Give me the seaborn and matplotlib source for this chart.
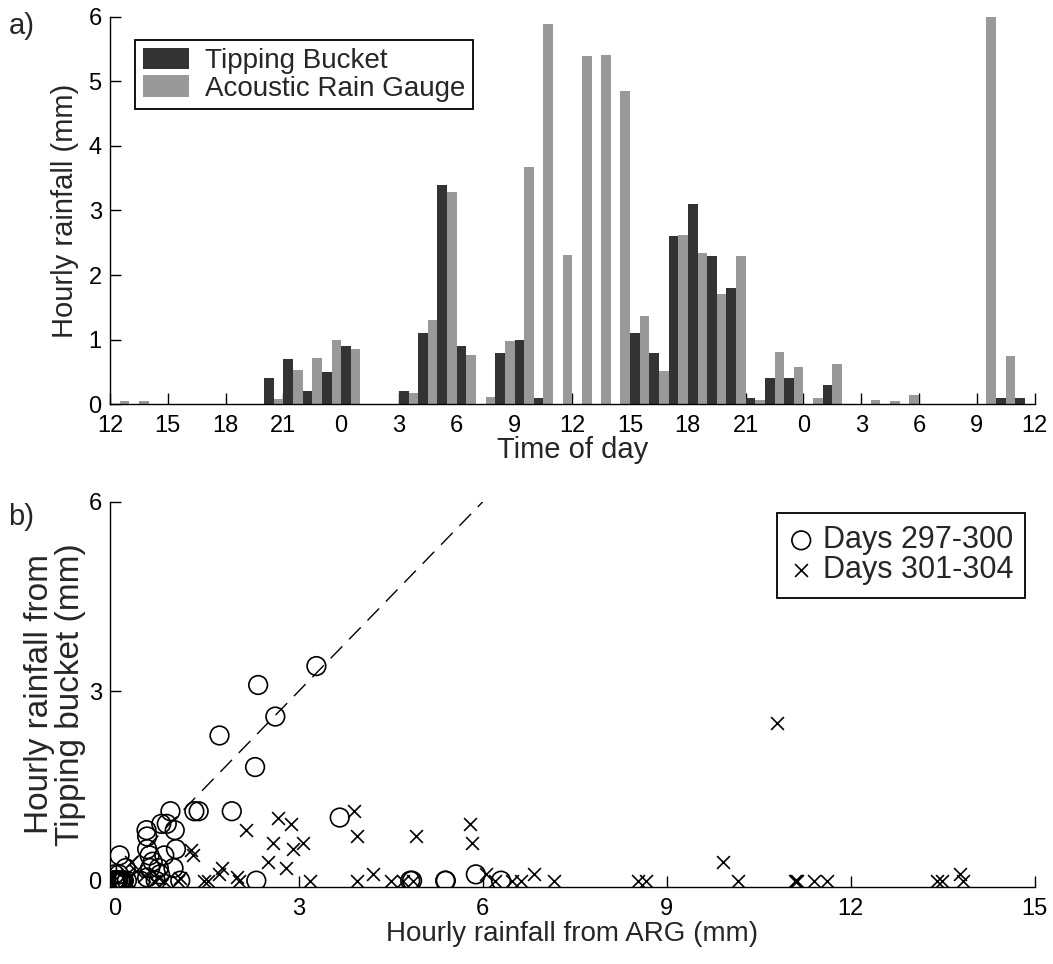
"""
Hourly rainfall: tipping bucket vs acoustic rain gauge (ARG).

a) hourly totals over two days, b) TB against ARG for two periods.
"""

import matplotlib

matplotlib.use("Agg")

import matplotlib.pyplot as plt
import numpy as np
import pandas as pd
import seaborn as sns

OUT_PATH = "out.png"

DARK = "#333333"
LIGHT = "#999999"

# hourly totals (mm), hour 0 = 12:00 on the first day, 48 hours in all
tipping_bucket = [
    0, 0, 0, 0, 0, 0, 0, 0, 0.4, 0.7, 0.2, 0.5,
    0.9, 0, 0, 0.2, 1.1, 3.4, 0.9, 0, 0.8, 1.0, 0.1, 0,
    0, 0, 0, 1.1, 0.8, 2.6, 3.1, 2.3, 1.8, 0.1, 0.4, 0.4,
    0, 0.3, 0, 0, 0, 0, 0, 0, 0, 0, 0.1, 0.1,
]
acoustic = [
    0.05, 0.05, 0, 0, 0, 0, 0, 0, 0.08, 0.53, 0.72, 1.0,
    0.85, 0, 0, 0.18, 1.3, 3.29, 0.76, 0.12, 0.98, 3.67, 5.89, 2.31,
    5.39, 5.4, 4.85, 1.37, 0.52, 2.62, 2.34, 1.71, 2.29, 0.07, 0.81, 0.57,
    0.09, 0.62, 0, 0.06, 0.05, 0.14, 0, 0, 0, 6.3, 0.74, 0,
]
hour_labels = ["12", "15", "18", "21", "0", "3", "6", "9",
               "12", "15", "18", "21", "0", "3", "6", "9", "12"]

# other hours of days 297-300 (not in panel a)
extra_arg = [0.91, 1.91, 4.82, 1.07, 0.53, 0.53, 0.42, 0.67, 0.96, 0.58,
             0.0, 0.15, 0.2, 0.1, 0.03]
extra_tb = [1.1, 1.1, 0, 0, 0.5, 0.05, 0, 0, 0.2, 0.2,
            0, 0, 0, 0, 0]

# days 301-304
late_arg = [
    0.2, 0.26, 0.35, 0.48, 0.64, 0.72, 0.8, 1.04, 1.07, 1.25,
    1.28, 1.45, 1.53, 1.7, 1.75, 1.99, 2.02, 2.15, 2.5, 2.59,
    2.67, 2.8, 2.88, 2.91, 3.07, 3.18, 3.9, 3.95, 3.95, 4.21,
    4.5, 4.7, 4.86, 4.91, 5.8, 5.83, 6.05, 6.21, 6.48, 6.62,
    6.83, 7.16, 8.54, 8.67, 9.92, 10.16, 10.8, 11.1, 11.11, 11.12,
    11.4, 11.62, 13.41, 13.49, 13.79, 13.84,
]
late_tb = [
    0.1, 0.3, 0.15, 0.08, 0, 0.05, 0, 0, 0.05, 0.48,
    0.4, 0, 0, 0.1, 0.2, 0.06, 0, 0.8, 0.3, 0.6,
    1.0, 0.2, 0.9, 0.5, 0.6, 0, 1.1, 0.7, 0, 0.1,
    0, 0, 0, 0.7, 0.9, 0.6, 0.1, 0, 0, 0,
    0.1, 0, 0, 0, 0.3, 0, 2.5, 0, 0, 0,
    0, 0, 0, 0, 0.1, 0,
]

sns.set_theme(style="ticks")
plt.rcParams["font.family"] = ["Liberation Sans", "DejaVu Sans"]
plt.rcParams["axes.linewidth"] = 1.0

TICK_SIZE = 17
LABEL_SIZE = 21


def style_axis(ax):
    sns.despine(ax=ax)
    for side in ("left", "bottom"):
        ax.spines[side].set_color("black")
    ax.tick_params(direction="in", length=8, width=1, labelsize=TICK_SIZE,
                   colors="black")
    ax.tick_params(axis="x", pad=8)
    ax.tick_params(axis="y", pad=6)


fig = plt.figure(figsize=(10.53, 9.64), dpi=100)
ax1 = fig.add_axes([0.1045, 0.5806, 0.878, 0.4021])
ax2 = fig.add_axes([0.1045, 0.0799, 0.878, 0.3994])

# --- a) bars
n_hours = len(tipping_bucket)
bars = pd.DataFrame({
    "hour": list(range(n_hours)) * 2,
    "rain": tipping_bucket + acoustic,
    "gauge": ["Tipping Bucket"] * n_hours + ["Acoustic Rain Gauge"] * n_hours,
})
sns.barplot(data=bars, x="hour", y="rain", hue="gauge",
            palette=[DARK, LIGHT], width=1.0, saturation=1,
            linewidth=0, errorbar=None, ax=ax1)
ax1.set_xlim(-0.5, n_hours - 0.5)
ax1.set_ylim(0, 6)
ax1.set_xticks(np.arange(-0.5, n_hours, 3))
ax1.set_xticklabels(hour_labels)
ax1.set_yticks(range(7))
ax1.set_xlabel("Time of day", fontsize=LABEL_SIZE, labelpad=-1)
ax1.set_ylabel("Hourly rainfall (mm)", fontsize=LABEL_SIZE, labelpad=7)
style_axis(ax1)
leg = ax1.legend(loc="upper left", bbox_to_anchor=(0.027, 0.94),
                 fontsize=20, frameon=True, fancybox=False,
                 edgecolor="black", framealpha=1, borderpad=0.28,
                 labelspacing=0.05, handlelength=1.65, handleheight=0.8,
                 handletextpad=0.6, borderaxespad=0)
leg.get_frame().set_linewidth(1.3)

# --- b) scatter
early_arg = acoustic + extra_arg
early_tb = tipping_bucket + extra_tb
sns.scatterplot(x=early_arg, y=early_tb, marker="o", s=180,
                facecolors="none", edgecolor="black", linewidth=1.2,
                label="Days 297-300", ax=ax2)
sns.scatterplot(x=late_arg, y=late_tb, marker="x", s=85, color="black",
                linewidth=1.2, label="Days 301-304", ax=ax2)
ax2.axline((0, 0), slope=1, color="black", lw=1, dashes=(12, 7))
ax2.set_xlim(-0.075, 15)
ax2.set_ylim(-0.1, 6)
ax2.set_xticks(range(0, 16, 3))
ax2.set_yticks([0, 3, 6])
ax2.set_xlabel("Hourly rainfall from ARG (mm)", fontsize=20, labelpad=1)
ax2.set_ylabel("Hourly rainfall from\nTipping bucket (mm)",
               fontsize=24, labelpad=2, linespacing=1.0)
style_axis(ax2)
leg2 = ax2.legend(loc="upper right", bbox_to_anchor=(0.99, 0.971),
                  fontsize=22, frameon=True, fancybox=False,
                  edgecolor="black", framealpha=1, borderpad=0.4,
                  labelspacing=0.0, handlelength=0.8, handletextpad=0.3,
                  borderaxespad=0)
leg2.get_frame().set_linewidth(1.3)

fig.text(0.008, 0.988, "a)", fontsize=LABEL_SIZE, va="top")
fig.text(0.008, 0.478, "b)", fontsize=LABEL_SIZE, va="top")

fig.savefig(OUT_PATH, dpi=100)
plt.close(fig)
